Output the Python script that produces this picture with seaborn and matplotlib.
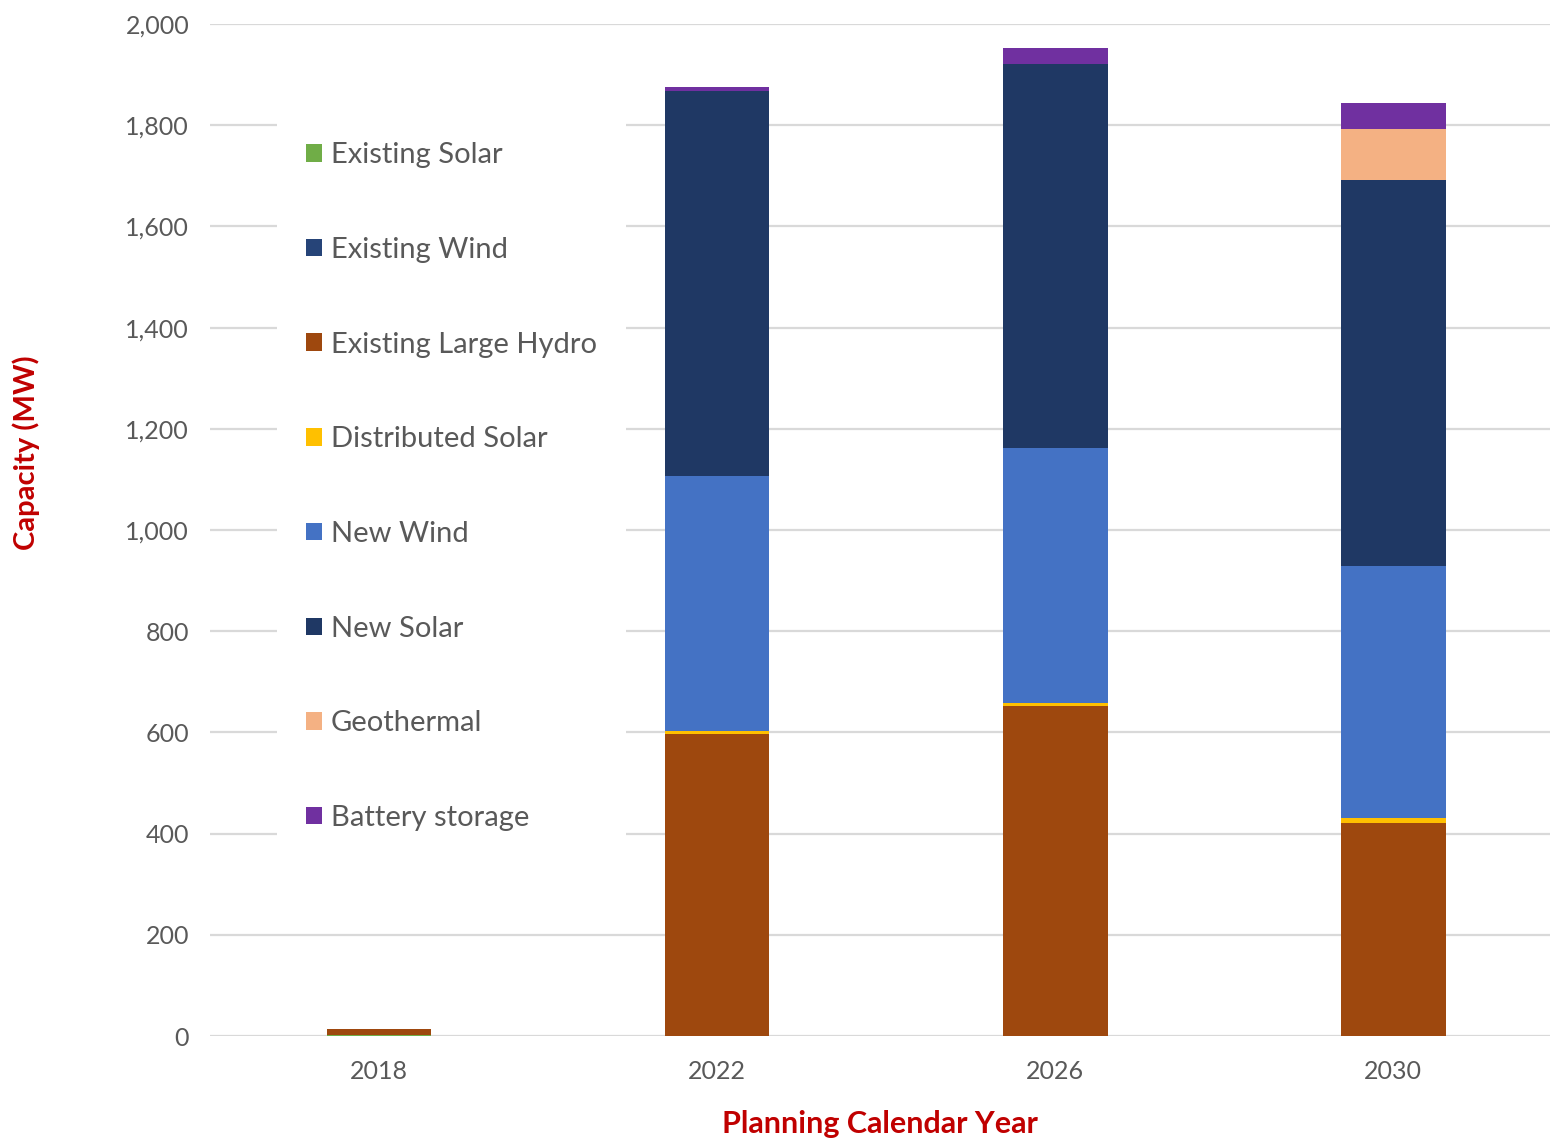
import matplotlib
matplotlib.use("Agg")
import matplotlib.pyplot as plt
from matplotlib.patches import Patch
from matplotlib.ticker import FuncFormatter
import seaborn as sns
import pandas as pd
import numpy as np

# Capacity by resource type (MW) per planning year
years = ["2018", "2022", "2026", "2030"]
existing_solar = [1, 0, 0, 0]
existing_wind = [0, 0, 0, 0]
existing_large_hydro = [12, 597, 653, 421]
distributed_solar = [0, 5, 6, 10]
new_wind = [0, 505, 503, 498]
new_solar = [0, 760, 759, 763]
geothermal = [0, 0, 0, 100]
battery_storage = [0, 8, 32, 51]

series_names = ["Existing Solar", "Existing Wind", "Existing Large Hydro",
                "Distributed Solar", "New Wind", "New Solar", "Geothermal",
                "Battery storage"]
series_values = [existing_solar, existing_wind, existing_large_hydro,
                 distributed_solar, new_wind, new_solar, geothermal,
                 battery_storage]
colors = ["#70AD47", "#264478", "#9E480E", "#FFC000", "#4472C4",
          "#1F3864", "#F4B183", "#7030A0"]

sns.set_theme(style="white")
plt.rcParams["font.family"] = ["Lato", "DejaVu Sans"]

text_gray = "#595959"
title_red = "#C00000"

df = pd.DataFrame({name: vals for name, vals in zip(series_names, series_values)})
df["Year"] = years
cum = df[series_names].cumsum(axis=1)

fig = plt.figure(figsize=(15.5, 11.38), dpi=100)
ax = fig.add_axes([210 / 1550, 1 - 1036 / 1138, 1340 / 1550, (1036 - 24) / 1138])

# stacked bars: draw cumulative totals from the top layer down
for name, color in reversed(list(zip(series_names, colors))):
    sns.barplot(x=df["Year"], y=cum[name], color=color, width=0.31,
                linewidth=0, saturation=1, ax=ax, zorder=3)

ax.set_ylim(0, 2000)
ax.set_xlim(-0.5, 3.464)
ax.set_yticks(np.arange(0, 2001, 200))
ax.yaxis.set_major_formatter(FuncFormatter(lambda v, p: f"{int(v):,}"))
ax.grid(axis="y", color="#D9D9D9", linewidth=1.6)
ax.grid(axis="x", visible=False)
ax.set_axisbelow(True)
for s in ax.spines.values():
    s.set_visible(False)
ax.tick_params(axis="both", length=0, labelsize=18, labelcolor=text_gray)
ax.tick_params(axis="y", pad=15)
ax.tick_params(axis="x", pad=17)

ax.set_xlabel("Planning Calendar Year", fontsize=22, fontweight="bold",
              color=title_red, labelpad=20)
ax.set_ylabel("Capacity (MW)", fontsize=21, fontweight="bold",
              color=title_red, labelpad=0)
ax.yaxis.set_label_coords(-0.127, 0.576)

handles = [Patch(facecolor=c, edgecolor="none") for c in colors]
leg = ax.legend(handles, series_names, loc="upper left",
                bbox_to_anchor=(277 / 1550, 1 - 113 / 1138),
                bbox_transform=fig.transFigure,
                fontsize=21, frameon=True, facecolor="white",
                edgecolor="none", framealpha=1, fancybox=False,
                handlelength=0.55, handleheight=0.55, handletextpad=0.3,
                labelspacing=2.355, borderpad=1.0, borderaxespad=0)
for t in leg.get_texts():
    t.set_color(text_gray)

fig.savefig("out.png", dpi=100)
